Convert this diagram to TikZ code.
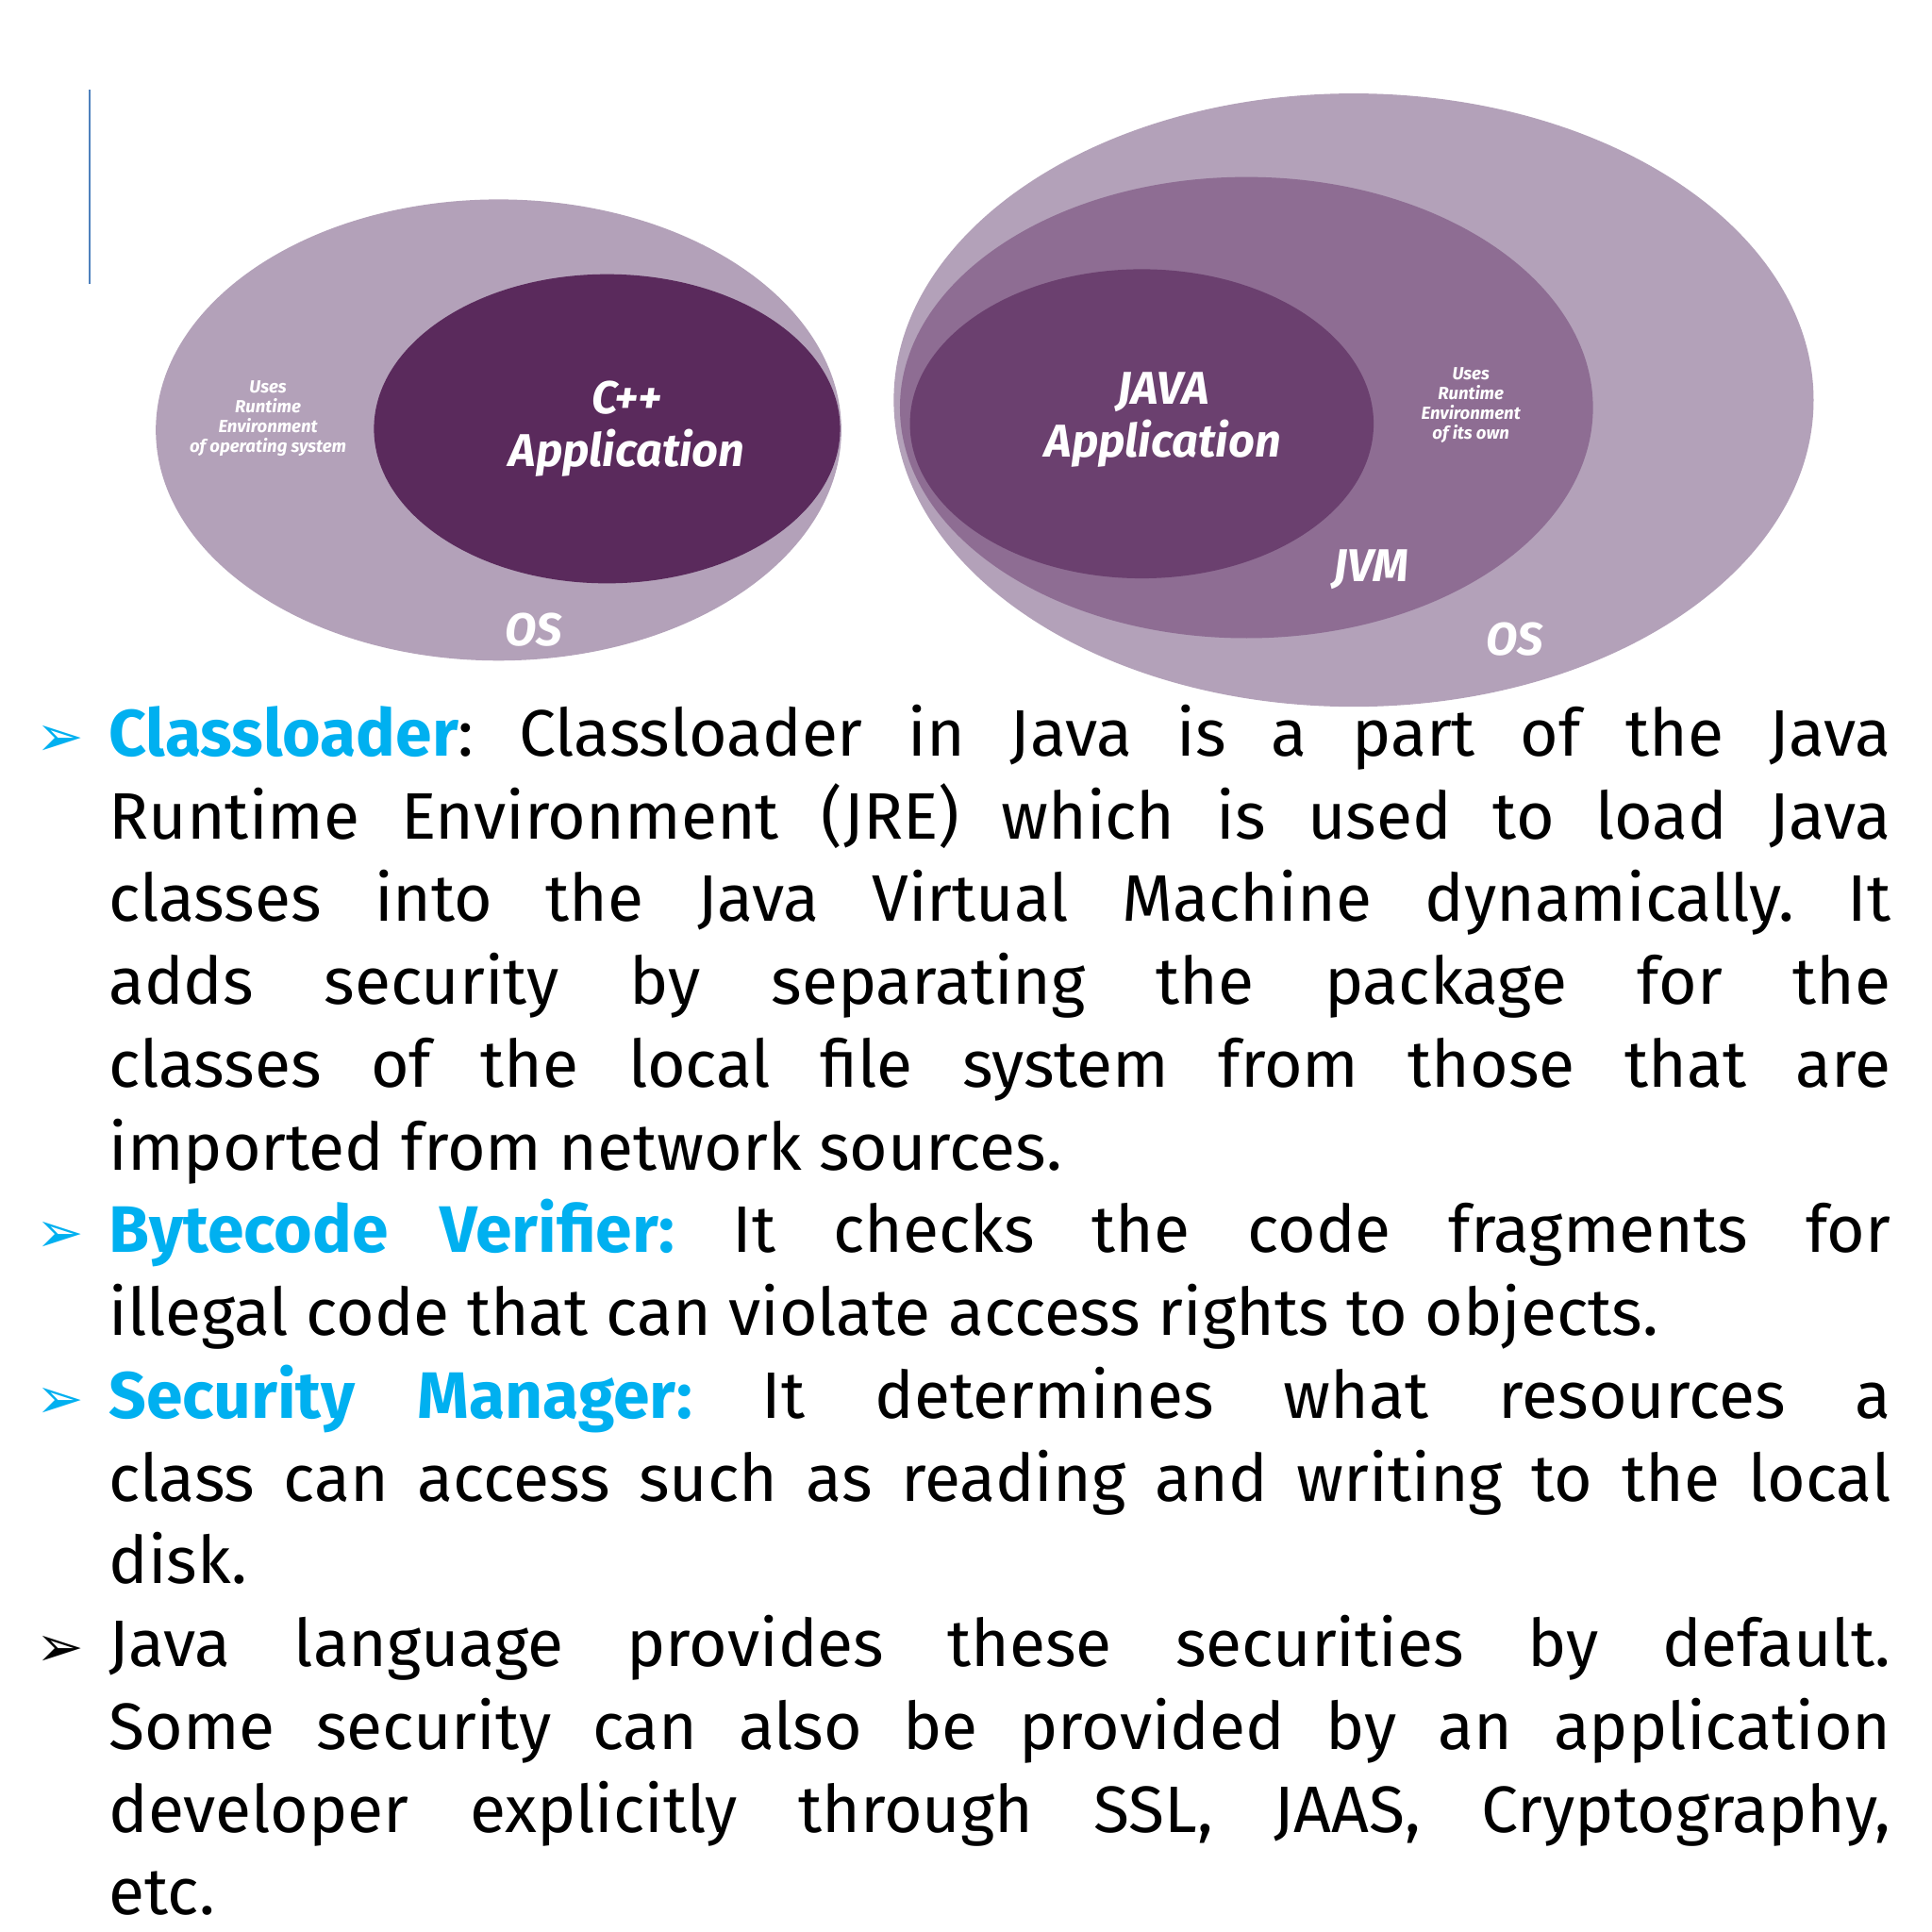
\documentclass[tikz,border=0pt]{standalone}
\usepackage{fontspec}
\setmainfont{Fira Sans}
\newfontfamily\symfont{DejaVu Sans}
\definecolor{osviolet}{HTML}{B3A1B9}
\definecolor{jvmviolet}{HTML}{8E6D93}
\definecolor{javaviolet}{HTML}{6B406F}
\definecolor{cppviolet}{HTML}{5A2A5C}
\definecolor{headblue}{HTML}{00B0F0}
\definecolor{barblue}{HTML}{4F81BD}
\tikzset{
  lbl/.style={text=white,font=\bfseries\itshape,align=center,inner sep=0pt},
  small lbl/.style={lbl,font=\bfseries\itshape\fontsize{8}{9}\selectfont},
  big lbl/.style={lbl,font=\bfseries\itshape\fontsize{21}{24}\selectfont},
}
\newcommand{\bul}[1]{\noindent\llap{\color{#1}\symfont\fontsize{26}{26}\selectfont ➢\hspace{0.4cm}}}
\newcommand{\head}[1]{\textcolor{headblue}{\bfseries #1}}
\begin{document}
\begin{tikzpicture}[x=0.02cm,y=-0.02cm]
  \useasboundingbox (0,0) rectangle (1550,1550);
  % bar at the top left
  \draw[barblue,line width=0.6pt] (72,72) -- (72,228);
  % left picture
  \fill[osviolet] (400,345) ellipse [x radius=275,y radius=185];
  \fill[cppviolet] (487,344) ellipse [x radius=187,y radius=124];
  \node[small lbl] (cppuses) at (215,336) {Uses\\Runtime\\Environment\\of operating system};
  \node[big lbl] (cppapp) at (503,344) {C++\\Application};
  \node[big lbl] (cppos) at (428,505) {OS};
  % right picture
  \fill[osviolet] (1086,321) ellipse [x radius=369,y radius=246];
  \fill[jvmviolet] (1000,327) ellipse [x radius=278,y radius=185];
  \fill[javaviolet] (916,340) ellipse [x radius=186,y radius=124];
  \node[big lbl] (javaapp) at (933,337) {JAVA\\Application};
  \node[small lbl] (javauses) at (1180,325) {Uses\\Runtime\\Environment\\of its own};
  \node[big lbl] (jvm) at (1100,457) {JVM};
  \node[big lbl] (javaos) at (1215,513) {OS};
  % text
  \node[anchor=north west,inner sep=0pt,text width=28.6cm,align=justify,
        font=\fontsize{30}{37.8}\selectfont\frenchspacing] (body) at (87,565) {%
    \bul{headblue}\head{Classloader}: Classloader in Java is a part of the Java\linebreak
    Runtime Environment (JRE) which is used to load Java\linebreak
    classes into the Java Virtual Machine dynamically. It\linebreak
    adds security by separating the package for the\linebreak
    classes of the local file system from those that are\linebreak
    imported from network sources.\par
    \bul{headblue}\head{Bytecode Verifier:} It checks the code fragments for\linebreak
    illegal code that can violate access rights to objects.\par
    \bul{headblue}\head{Security Manager:} It determines what resources a\linebreak
    class can access such as reading and writing to the local\linebreak
    disk.\par
    \bul{black}Java language provides these securities by default.\linebreak
    Some security can also be provided by an application\linebreak
    developer explicitly through SSL, JAAS, Cryptography,\linebreak
    etc.\par};
\end{tikzpicture}
\end{document}
